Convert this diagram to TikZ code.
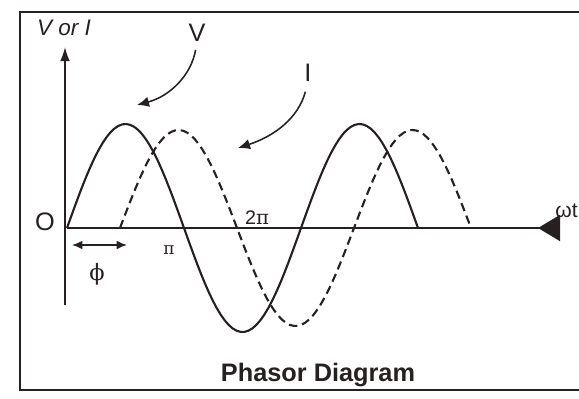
\documentclass[tikz,border=0pt]{standalone}
\usepackage{fontspec}
\setmainfont{Liberation Sans}
\newfontfamily\grkfont{DejaVu Serif}
\usetikzlibrary{arrows.meta}
\definecolor{inkdark}{RGB}{38,32,32}

\begin{document}
\begin{tikzpicture}[
        wave/.style={line width=1.5pt, color=inkdark},
        lbl/.style={inner sep=0pt, color=inkdark},
        pointer/.style={line width=1.1pt, color=inkdark, -{Latex[length=3mm, width=2.6mm]}}]
        \useasboundingbox (0,0) rectangle (14.475,9.95);

        % Frame
        \draw[line width=1.3pt, inkdark] (14.475,9.65) -- (0.5,9.65) -- (0.5,0.2) -- (14.475,0.2);

        % Axes
        \coordinate (O) at (1.675,4.25);
        \coordinate (ybot) at (1.625,2.325);
        \coordinate (ytop) at (1.625,8.775);
        \coordinate (xend) at (14.0,4.25);
        \draw[line width=1.2pt, inkdark, -{Latex[length=3.5mm, width=2.4mm]}] (ybot) -- (ytop);
        \draw[line width=1.2pt, inkdark, -{Triangle[reversed, length=5.5mm, width=6.5mm]}] (O) -- (xend);

        % V (solid) and I (dashed)
        \draw[wave] plot[domain=0:3*pi, samples=90] ({1.675+\x*2.925/pi}, {4.25+2.6*sin(\x r)});
        \draw[wave, dash pattern=on 6pt off 3.5pt]
            plot[domain=0:3*pi, samples=90] ({3.0+\x*2.925/pi}, {4.25+2.45*sin(\x r)});

        % Curve labels with pointers
        \node[lbl, font=\fontsize{16}{16}\selectfont\itshape] (vori) at (1.6,9.25) {V or I};
        \node[lbl, font=\fontsize{18}{18}\selectfont] (vlbl) at (4.925,9.125) {V};
        \node[lbl, font=\fontsize{18}{18}\selectfont] (ilbl) at (7.7,8.125) {I};
        \coordinate (vpeak) at (3.425,7.325);
        \coordinate (ipeak) at (5.95,6.25);
        \draw[pointer, shorten <=2mm] (vlbl.south) to[out=-100, in=15] (vpeak);
        \draw[pointer, shorten <=2.5mm] (ilbl.south) to[out=-105, in=18] (ipeak);

        % Axis labels
        \node[lbl, font=\fontsize{18}{18}\selectfont] (olbl) at (1.125,4.4) {O};
        \node[lbl, font=\fontsize{14}{14}\selectfont] (twopi) at (6.425,4.5) {2{\grkfont π}};
        \node[lbl, font=\fontsize{12}{12}\grkfont] (pilbl) at (4.225,3.7) {π};
        \node[lbl, font=\fontsize{15}{15}\selectfont, anchor=east] (wt) at (14.45,4.68) {ωt};

        % Phase shift
        \coordinate (phia) at (1.8,3.825);
        \coordinate (phib) at (3.175,3.825);
        \draw[line width=1.2pt, inkdark, {Latex[length=2.6mm, width=2.2mm]}-{Latex[length=2.6mm, width=2.2mm]}] (phia) -- (phib);
        \node[lbl, font=\fontsize{16}{16}\grkfont] (philbl) at (2.425,3.1) {ϕ};

        % Caption
        \node[lbl, font=\fontsize{18}{18}\selectfont\bfseries] (caption) at (7.95,0.575) {Phasor Diagram};
    \end{tikzpicture}
\end{document}
